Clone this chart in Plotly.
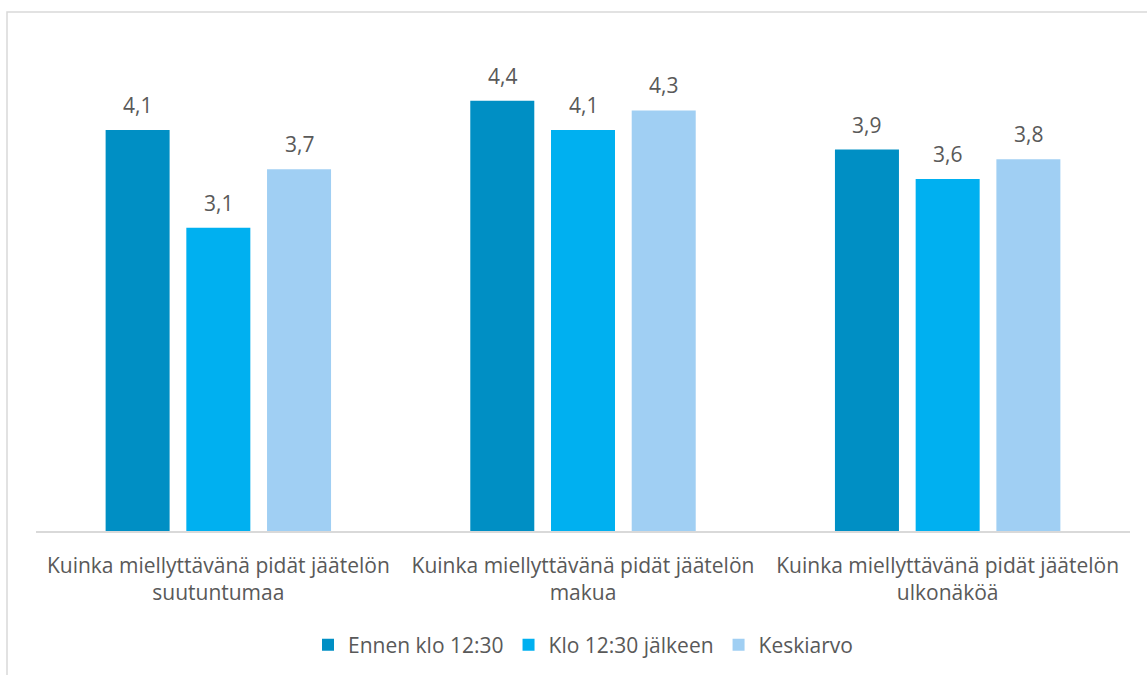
import plotly.graph_objects as go

categories = [
    "Kuinka miellyttävänä pidät jäätelön<br>suutuntumaa",
    "Kuinka miellyttävänä pidät jäätelön<br>makua",
    "Kuinka miellyttävänä pidät jäätelön<br>ulkonäköä",
]
series_names = ["Ennen klo 12:30", "Klo 12:30 jälkeen", "Keskiarvo"]
ennen = [4.1, 4.4, 3.9]
jalkeen = [3.1, 4.1, 3.6]
keskiarvo = [3.7, 4.3, 3.8]
colors = ["#008FC4", "#00B0F0", "#A0CFF3"]

W, H = 1147, 675
ML, MR, MT, MB = 36, 17, 42, 144
FONT = "Open Sans"
GRAY = "#595959"
BARGAP, GROUPGAP = 0.336, 0.207

fig = go.Figure()
all_series = [ennen, jalkeen, keskiarvo]
n = len(all_series)
slot = (1 - BARGAP) / n
for j, (name, vals, col) in enumerate(zip(series_names, all_series, colors)):
    fig.add_trace(go.Bar(
        x=list(range(len(categories))), y=vals, name=name,
        marker=dict(color=col, line=dict(width=0)),
    ))
    # value labels above each bar
    for i, v in enumerate(vals):
        fig.add_annotation(
            x=i + (j - (n - 1) / 2) * slot, y=v, xref="x", yref="y",
            text=f"{v:.1f}".replace(".", ","), showarrow=False,
            yanchor="middle", yshift=25,
            font=dict(family=FONT, size=21, color=GRAY),
        )

pw = W - ML - MR
ph = H - MT - MB
# chart frame
fig.add_shape(type="path", xref="paper", yref="paper",
              path=f"M {1 + 40/pw} {1 + (MT-12)/ph} L {-(ML-7)/pw} {1 + (MT-12)/ph} L {-(ML-7)/pw} {-(MB+20)/ph}",
              line=dict(color="#D9D9D9", width=1.5))

fig.update_layout(
    width=W, height=H,
    margin=dict(l=ML, r=MR, t=MT, b=MB, autoexpand=False),
    paper_bgcolor="white", plot_bgcolor="white",
    barmode="group", bargap=BARGAP, bargroupgap=GROUPGAP,
    font=dict(family=FONT, size=21, color=GRAY),
    showlegend=True,
    legend=dict(orientation="h", x=0.5, xanchor="center",
                yref="container", y=30 / H, yanchor="middle",
                font=dict(family=FONT, size=21, color=GRAY), itemwidth=30,
                traceorder="normal"),
    xaxis=dict(tickmode="array", tickvals=list(range(len(categories))), ticktext=categories,
               range=[-0.5, 2.5], showline=True, linecolor="#D9D9D9", linewidth=1.5,
               ticks="", showgrid=False, ticklabelstandoff=15, automargin=False,
               tickfont=dict(family=FONT, size=21, color=GRAY)),
    yaxis=dict(range=[0, 5], visible=False, showgrid=False, automargin=False),
)

fig.write_html("out.html")
